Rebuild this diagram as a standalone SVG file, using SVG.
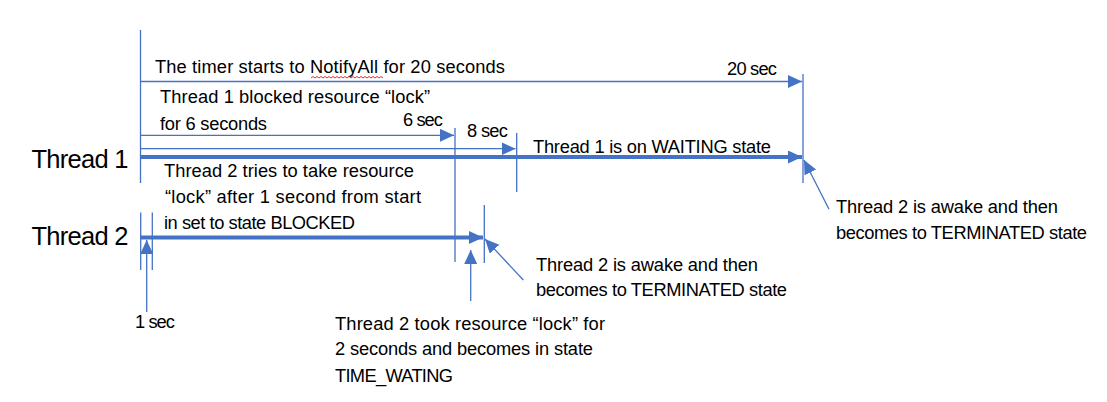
<svg xmlns="http://www.w3.org/2000/svg" width="1107" height="402" viewBox="0 0 1107 402">
<style>
.bg{fill:#ffffff}
.thin{stroke:#4472C4;stroke-width:1.3;fill:none}
.thick{stroke:#4472C4;stroke-width:4;fill:none}
.t{font-family:"Liberation Sans",Arial,sans-serif;font-size:18.3px;fill:#000000}
.big{font-family:"Liberation Sans",Arial,sans-serif;font-size:25.5px;fill:#000000}
.wave{stroke:#E03030;stroke-width:1;fill:none}
</style>
<defs>
<marker id="ah" markerUnits="userSpaceOnUse" markerWidth="15" markerHeight="14" refX="14" refY="6.5" orient="auto">
<path d="M0,0 L14,6.5 L0,13 z" fill="#4472C4"/>
</marker>
</defs>
<rect class="bg" x="0" y="0" width="1107" height="402"/>
<g id="connectors">
<line class="thin" x1="140.5" y1="30" x2="140.5" y2="183"/>
<line class="thin" x1="803" y1="74" x2="803" y2="183"/>
<line class="thin" x1="455" y1="128" x2="455" y2="262"/>
<line class="thin" x1="516.7" y1="133" x2="516.7" y2="192"/>
<line class="thin" x1="484.3" y1="205" x2="484.3" y2="263"/>
<line class="thin" x1="140.7" y1="212.5" x2="140.7" y2="270"/>
<line class="thin" x1="152.3" y1="212.5" x2="152.3" y2="270"/>
<line class="thin" x1="140.5" y1="81.5" x2="802" y2="81.5" marker-end="url(#ah)"/>
<line class="thin" x1="140.5" y1="135.3" x2="454" y2="135.3" marker-end="url(#ah)"/>
<line class="thin" x1="140.5" y1="148.7" x2="515.5" y2="148.7" marker-end="url(#ah)"/>
<line class="thick" x1="140.5" y1="157" x2="802" y2="157" marker-end="url(#ah)"/>
<line class="thick" x1="140.5" y1="237.5" x2="483" y2="237.5" marker-end="url(#ah)"/>
<line class="thin" x1="146.7" y1="312" x2="146.7" y2="240" marker-end="url(#ah)"/>
<line class="thin" x1="470.7" y1="301" x2="470.7" y2="250" marker-end="url(#ah)"/>
<line class="thin" x1="523.3" y1="280" x2="485" y2="239" marker-end="url(#ah)"/>
<line class="thin" x1="829" y1="209.3" x2="804" y2="160" marker-end="url(#ah)"/>
</g>
<g id="timer">
<text class="t" x="155" y="73" textLength="350">The timer starts to NotifyAll for 20 seconds</text>
<path class="wave" d="M311,78 l2,-1.5 l2,1.5 l2,-1.5 l2,1.5 l2,-1.5 l2,1.5 l2,-1.5 l2,1.5 l2,-1.5 l2,1.5 l2,-1.5 l2,1.5 l2,-1.5 l2,1.5 l2,-1.5 l2,1.5 l2,-1.5 l2,1.5 l2,-1.5 l2,1.5 l2,-1.5 l2,1.5 l2,-1.5 l2,1.5 l2,-1.5 l2,1.5 l2,-1.5 l2,1.5 l2,-1.5 l2,1.5 l2,-1.5 l2,1.5 l2,-1.5 l2,1.5 l2,-1.5 l2,1.5"/>
<text class="t" x="727" y="75" textLength="50">20 sec</text>
</g>
<g id="thread1">
<text class="big" x="31.5" y="167.7" textLength="97">Thread 1</text>
<text class="t" x="160" y="103" textLength="270">Thread 1 blocked resource “lock”</text>
<text class="t" x="160" y="130" textLength="107">for 6 seconds</text>
<text class="t" x="403" y="126" textLength="40">6 sec</text>
<text class="t" x="467" y="136.7" textLength="41">8 sec</text>
<text class="t" x="533" y="153" textLength="238">Thread 1 is on WAITING state</text>
</g>
<g id="thread2">
<text class="big" x="31.5" y="245" textLength="97">Thread 2</text>
<text class="t" x="164" y="177" textLength="250">Thread 2 tries to take resource</text>
<text class="t" x="165" y="202.7" textLength="256">“lock” after 1 second from start</text>
<text class="t" x="164" y="229" textLength="191">in set to state BLOCKED</text>
<text class="t" x="135" y="328.3" textLength="40">1 sec</text>
</g>
<g id="timewaiting">
<text class="t" x="335" y="330" textLength="270">Thread 2 took resource “lock” for</text>
<text class="t" x="335" y="355" textLength="258">2 seconds and becomes in state</text>
<text class="t" x="335" y="381.5" textLength="118">TIME_WATING</text>
</g>
<g id="terminated1">
<text class="t" x="536" y="271" textLength="222">Thread 2 is awake and then</text>
<text class="t" x="536" y="296" textLength="251">becomes to TERMINATED state</text>
</g>
<g id="terminated2">
<text class="t" x="836" y="213.3" textLength="222">Thread 2 is awake and then</text>
<text class="t" x="836" y="239" textLength="251">becomes to TERMINATED state</text>
</g>
</svg>
